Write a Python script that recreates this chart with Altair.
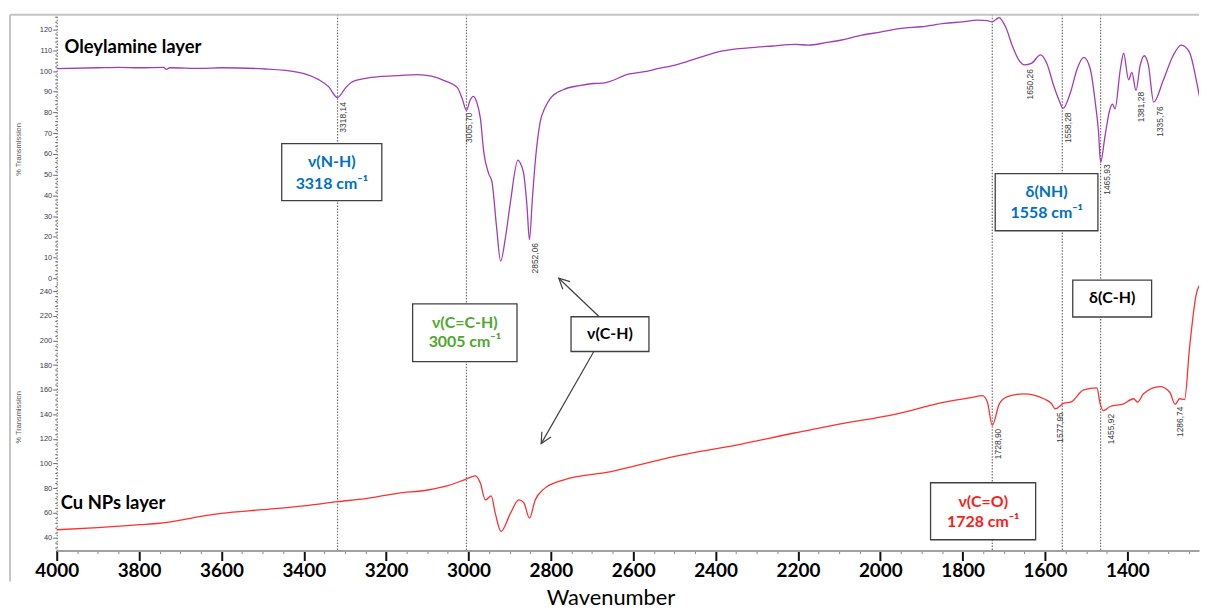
import altair as alt
import pandas as pd

# ---------------- spectra ----------------
ole_wn = [4000, 3900, 3850, 3800, 3740, 3734, 3725, 3650, 3600, 3493, 3413, 3365, 3340, 3318,
          3300, 3285, 3250, 3213, 3170, 3124, 3090, 3059, 3027, 3015, 3005, 2996, 2988, 2980,
          2971, 2963, 2951, 2943, 2932, 2922, 2910, 2898, 2880, 2873, 2866, 2858, 2852, 2845,
          2838, 2826, 2815, 2802, 2770, 2730, 2697, 2673, 2609, 2568, 2544, 2496, 2440, 2383,
          2320, 2262, 2206, 2175, 2130, 2094, 2045, 2000, 1949, 1900, 1844, 1800, 1764, 1740,
          1729, 1720, 1711, 1703, 1695, 1679, 1665, 1650, 1633, 1611, 1595, 1579, 1566, 1556,
          1538, 1522, 1506, 1490, 1478, 1470, 1465, 1454, 1442, 1436, 1430, 1417, 1409, 1397,
          1389, 1379, 1369, 1359, 1349, 1336, 1313, 1289, 1269, 1249, 1233, 1221]
ole_t = [101.2, 101.6, 101.8, 101.6, 101.8, 100.8, 101.6, 101.3, 101.6, 101.0, 99.4, 96.0, 92.5, 87.2,
         91.5, 94.5, 96.5, 97.4, 97.8, 98.3, 97.5, 95.4, 92.0, 86.5, 81.0, 86.0, 87.8, 85.0,
         77.0, 61.0, 50.5, 46.5, 25.0, 8.2, 20.0, 37.0, 57.0, 55.0, 50.5, 35.0, 18.6, 38.0,
         56.0, 75.4, 82.0, 86.6, 91.0, 93.0, 94.0, 94.2, 98.6, 99.8, 101.0, 103.0, 106.5, 109.7,
         111.2, 112.1, 112.9, 112.5, 113.8, 115.0, 117.3, 118.8, 120.6, 121.4, 123.0, 123.8, 124.6, 124.4,
         123.7, 124.8, 125.8, 124.0, 121.0, 112.0, 105.8, 103.0, 103.7, 107.8, 103.4, 93.0, 86.0, 82.0,
         89.8, 101.0, 106.6, 101.0, 85.0, 70.6, 56.0, 69.0, 81.8, 84.0, 81.8, 101.0, 108.6, 95.8,
         99.4, 90.6, 102.6, 107.4, 103.0, 85.0, 95.4, 107.4, 112.5, 109.0, 96.0, 83.5]

cu_wn = [4000, 3900, 3800, 3750, 3700, 3650, 3600, 3500, 3400, 3318, 3250, 3172, 3099, 3050,
         3007, 2983, 2971, 2959, 2945, 2935, 2921, 2898, 2878, 2866, 2852, 2838, 2818, 2770,
         2657, 2496, 2350, 2206, 2100, 1965, 1844, 1780, 1752, 1740, 1728, 1711, 1691, 1651,
         1603, 1585, 1575, 1554, 1538, 1506, 1474, 1466, 1458, 1442, 1409, 1385, 1375, 1361,
         1321, 1297, 1284, 1273, 1261, 1249, 1233, 1221]
cu_t = [46.2, 48.0, 50.3, 51.5, 54.0, 57.0, 59.5, 62.5, 65.6, 69.0, 71.5, 75.8, 78.5, 82.0,
        87.2, 90.0, 83.9, 70.4, 73.7, 59.7, 44.8, 59.7, 70.4, 68.3, 55.7, 70.4, 79.0, 86.6,
        93.3, 106.0, 115.0, 125.0, 132.0, 140.0, 149.8, 153.5, 155.2, 150.0, 131.0, 148.5, 154.4, 156.6,
        152.6, 149.0, 144.5, 149.0, 149.8, 159.8, 161.4, 148.5, 143.0, 146.3, 148.5, 152.6, 149.8, 156.6,
        162.5, 157.9, 148.0, 152.6, 152.0, 194.0, 237.0, 246.7]

# dotted marker lines
marker_wn = [3318, 3005, 1728, 1558, 1465]

# peak labels
top_peak_lbl = ["3318,14", "3005,70", "2852,06", "1650,26", "1558,28", "1465,93", "1381,28", "1335,76"]
top_peak_wn = [3318, 3014, 2852, 1650, 1558, 1465, 1381, 1335]
top_peak_t = [85, 80, 17, 101, 80, 55, 90, 83]

cu_peak_lbl = ["1728,90", "1577,95", "1455,92", "1286,74"]
cu_peak_wn = [1728, 1577, 1455, 1286]
cu_peak_t = [128.3, 141.7, 140.4, 146.3]

# annotation boxes (wavenumber / transmission corners)
top_box_wn1 = [3453.6, 1720.9]
top_box_wn2 = [3210.5, 1471.5]
top_box_t1 = [65.0, 50.5]
top_box_t2 = [37.4, 22.9]

cu_box_wn1 = [3135.7, 2751.0, 1532.6, 1877.9]
cu_box_wn2 = [2882.2, 2561.8, 1341.1, 1622.7]
cu_box_t1 = [229.7, 219.2, 248.9, 84.4]
cu_box_t2 = [182.7, 191.0, 219.0, 38.1]

BLUE, GREEN, RED, BLACK = "#0070c0", "#4ea72e", "#ff1a1a", "#000000"
top_box_txt = ["ν(N-H)", "3318 cm⁻¹", "δ(NH)", "1558 cm⁻¹"]
top_box_txt_wn = [3332, 3332, 1596, 1596]
top_box_txt_t = [56.2, 45.6, 41.8, 31.4]
top_box_txt_c = [BLUE, BLUE, BLUE, BLUE]

cu_box_txt = ["ν(C=C-H)", "3005 cm⁻¹", "ν(C-H)", "δ(C-H)", "ν(C=O)", "1728 cm⁻¹"]
cu_box_txt_wn = [3009, 3009, 2656.5, 1436.7, 1750, 1750]
cu_box_txt_t = [214.4, 198.3, 205.3, 234.4, 69.1, 52.4]
cu_box_txt_c = [GREEN, GREEN, BLACK, BLACK, RED, RED]

# arrows for v(C-H)
arrow_wn1 = [2682.6, 2695.6]
arrow_t1 = [219.2, 191.0]
arrow_wn2 = [2780.8, 2823.5]
arrow_t2 = [250.5, 116.2]
arrow_angle = [313.6, 209.8]

layer_names = ["Oleylamine layer", "Cu NPs layer"]
layer_wn = [3981, 3990]
layer_t = [111.4, 67.8]

# ---------------- geometry ----------------
W = 1149
H_TOP = 270
H_BOT = 269
X_DOMAIN = [1226, 4000]
xscale = alt.Scale(domain=X_DOMAIN, reverse=True, nice=False, zero=False)
top_yscale = alt.Scale(domain=[-2.4, 127.2], nice=False, zero=False)
bot_yscale = alt.Scale(domain=[29.3, 246.5], nice=False, zero=False)

ax_font = "Liberation Sans"


def y_axis(values, major):
    return alt.Axis(
        title="% Transmission", values=values,
        labelExpr=f"datum.value % {major} === 0 ? datum.label : ''",
        labelOverlap=False, grid=False,
        tickSize={"condition": {"test": f"datum.value % {major} === 0", "value": 4}, "value": 2},
        tickColor="#666", domainColor="#777", domainDash=[1.5, 1.5], domainWidth=1.2,
        labelFont=ax_font, labelFontSize=7.5, labelColor="#3a3a4a", labelPadding=1,
        titleFont=ax_font, titleFontSize=7.5, titleFontWeight="normal", titleColor="#555",
        titlePadding=17,
    )


top_axis = y_axis(list(range(0, 127, 2)), 10)
bot_axis = y_axis(list(range(32, 246, 4)), 20)

x_axis = alt.Axis(
    title="Wavenumber", values=list(range(1250, 4001, 50)), format="d",
    labelExpr="datum.value % 200 === 0 ? datum.label : ''",
    labelOverlap=False, labelFlush=False, grid=False,
    tickSize={"condition": {"test": "datum.value % 200 === 0", "value": 10}, "value": 3},
    tickWidth={"condition": {"test": "datum.value % 200 === 0", "value": 2}, "value": 1},
    tickColor={"condition": {"test": "datum.value % 200 === 0", "value": "#111"}, "value": "#888"},
    domainColor="#a0a0a0", domainWidth=2,
    labelFont="Lato", labelFontWeight="bold", labelFontSize=19, labelColor="#000", labelPadding=1,
    titleFont="Lato", titleFontWeight="normal", titleFontSize=22, titleColor="#000",
    titlePadding=7, titleX=557,
)

one = pd.DataFrame({"k": [0]})

ole_df = pd.DataFrame({"wn": ole_wn, "t": ole_t})
cu_df = pd.DataFrame({"wn": cu_wn, "t": cu_t})
mark_df = pd.DataFrame({"wn": marker_wn})
top_peaks = pd.DataFrame({"wn": top_peak_wn, "t": top_peak_t, "lbl": top_peak_lbl})
cu_peaks = pd.DataFrame({"wn": cu_peak_wn, "t": cu_peak_t, "lbl": cu_peak_lbl})
top_boxes = pd.DataFrame({"wn": top_box_wn1, "wn2": top_box_wn2, "t": top_box_t1, "t2": top_box_t2})
cu_boxes = pd.DataFrame({"wn": cu_box_wn1, "wn2": cu_box_wn2, "t": cu_box_t1, "t2": cu_box_t2})
top_txt = pd.DataFrame({"wn": top_box_txt_wn, "t": top_box_txt_t, "txt": top_box_txt, "c": top_box_txt_c})
cu_txt = pd.DataFrame({"wn": cu_box_txt_wn, "t": cu_box_txt_t, "txt": cu_box_txt, "c": cu_box_txt_c})
arrows = pd.DataFrame({"wn": arrow_wn1, "t": arrow_t1, "wn2": arrow_wn2, "t2": arrow_t2, "a": arrow_angle})
names_top = pd.DataFrame({"wn": layer_wn[:1], "t": layer_t[:1], "txt": layer_names[:1]})
names_bot = pd.DataFrame({"wn": layer_wn[1:], "t": layer_t[1:], "txt": layer_names[1:]})


def panel(spec_df, color, yscale, yaxis, peaks, boxes, txt, names, extra, height, is_bottom):
    xa = x_axis if is_bottom else None

    def X(f="wn:Q"):
        return alt.X(f, scale=xscale, axis=xa)

    def Y(f="t:Q"):
        return alt.Y(f, scale=yscale, axis=yaxis)

    line = alt.Chart(spec_df).mark_line(color=color, strokeWidth=1.3, clip=True,
                                        interpolate="monotone").encode(x=X(), y=Y())
    rules = alt.Chart(mark_df).mark_rule(color="#6e6e6e", strokeDash=[1.5, 1.5], strokeWidth=1.2).encode(
        x=X())
    plbl = alt.Chart(peaks).mark_text(angle=270, align="right", baseline="top", dy=2,
                                      font=ax_font, fontSize=8.5, color="#3a3a3a").encode(
        x=X(), y=Y(), text="lbl:N")
    rect = alt.Chart(boxes).mark_rect(fill="white", stroke="#404040", strokeWidth=1.3).encode(
        x=X(), x2="wn2:Q", y=Y(), y2="t2:Q")
    btxt = alt.Chart(txt).mark_text(font="Lato", fontWeight="bold", fontSize=16,
                                    align="center", baseline="middle").encode(
        x=X(), y=Y(), text="txt:N", color=alt.Color("c:N", scale=None))
    name = alt.Chart(names).mark_text(font="Lato", fontWeight="bold", fontSize=18.5,
                                      align="left", baseline="middle", color="#000").encode(
        x=X(), y=Y(), text="txt:N")
    ex = [e(X, Y) for e in extra]
    layers = [rules, line, plbl, rect] + ex + [btxt, name]
    return alt.layer(*layers).properties(width=W, height=height)


# frame lines
def frame_top(X, Y):
    return alt.Chart(one).mark_rule(color="#c4c4c4", strokeWidth=2).encode(
        x=alt.value(-47), x2=alt.value(W), y=alt.value(0))


def frame_left(X, Y):
    return alt.Chart(one).mark_rule(color="#c4c4c4", strokeWidth=2).encode(
        x=alt.value(-47), y=alt.value(-H_TOP), y2=alt.value(300))


def arrow_lines(X, Y):
    return alt.Chart(arrows).mark_rule(color="#404040", strokeWidth=1.2).encode(
        x=X(), x2="wn2:Q", y=Y(), y2="t2:Q")


def arrow_heads(X, Y):
    return alt.Chart(arrows).mark_point(shape="M-0.5,1L0,0L0.5,1", filled=False, size=450,
                                        strokeWidth=1.2, color="#404040", opacity=1).encode(
        x=X("wn2:Q"), y=Y("t2:Q"), angle=alt.Angle("a:Q", scale=None))


top = panel(ole_df, "#a23cb6", top_yscale, top_axis, top_peaks, top_boxes, top_txt, names_top,
            [frame_top], H_TOP, False)
bottom = panel(cu_df, "#ff3030", bot_yscale, bot_axis, cu_peaks, cu_boxes, cu_txt, names_bot,
               [arrow_lines, arrow_heads, frame_left], H_BOT, True)

chart = alt.vconcat(top, bottom, spacing=0, bounds="flush").resolve_scale(
    y="independent").properties(
    padding={"left": 1, "top": 3, "right": 0, "bottom": 0},
    background="white",
).configure_view(stroke=None)

chart.save("out.html", embed_options={"renderer": "svg", "actions": False})
